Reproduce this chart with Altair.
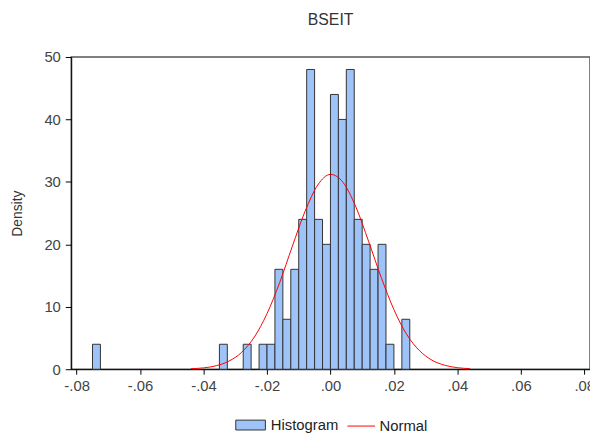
import altair as alt
import pandas as pd

# histogram bins (left edge) and density heights
bin_left = [-0.075, -0.035, -0.0275, -0.0225, -0.02, -0.0175, -0.015, -0.0125,
            -0.01, -0.0075, -0.005, -0.0025, 0.0, 0.0025, 0.005, 0.0075,
            0.01, 0.0125, 0.015, 0.0175, 0.0225]
density = [4, 4, 4, 4, 4, 16, 8, 16, 24, 48, 24, 20, 44, 40, 48, 24,
           20, 16, 20, 4, 8]
bin_width = 0.0025

# fitted normal curve
curve_x = [-0.044, -0.040, -0.036, -0.032, -0.028, -0.024, -0.020, -0.016,
           -0.012, -0.008, -0.004, 0.000, 0.004, 0.008, 0.012, 0.016,
           0.020, 0.024, 0.028, 0.032, 0.036, 0.040, 0.044]
curve_y = [0.08, 0.22, 0.56, 1.3, 2.7, 5.15, 8.9, 13.9,
           19.7, 25.3, 29.5, 31.2, 29.9, 26.0, 20.5, 14.7,
           9.55, 5.6, 3.0, 1.45, 0.64, 0.25, 0.09]

x_ticks = [-0.08, -0.06, -0.04, -0.02, 0.0, 0.02, 0.04, 0.06, 0.08]
y_ticks = [0, 10, 20, 30, 40, 50]

font = "Liberation Sans"

hist_df = pd.DataFrame({"left": bin_left, "density": density})
hist_df["right"] = hist_df["left"] + bin_width
hist_df["series"] = "Histogram"

curve_df = pd.DataFrame({"x": curve_x, "y": curve_y, "series": "Normal"})

x_scale = alt.Scale(domain=[-0.0817, 0.0818], nice=False, zero=False)
y_scale = alt.Scale(domain=[0, 50], nice=False)

label_expr = ("(datum.value < -1e-9 ? '-' : '') + "
              "replace(format(abs(datum.value), '.2f'), '0.', '.')")

bars = (
    alt.Chart(hist_df)
    .mark_rect(stroke="#333333", strokeWidth=1, opacity=1)
    .encode(
        x=alt.X(
            "left:Q",
            scale=x_scale,
            axis=alt.Axis(
                values=x_ticks,
                labelExpr=label_expr,
                title=None,
                grid=False,
                tickSize=5,
                labelPadding=5,
            ),
        ),
        x2="right:Q",
        y=alt.Y(
            "density:Q",
            scale=y_scale,
            axis=alt.Axis(values=y_ticks, title="Density", grid=False,
                          tickSize=6, labelPadding=5, titlePadding=20),
        ),
        y2=alt.datum(0),
        fill=alt.Fill(
            "series:N",
            scale=alt.Scale(domain=["Histogram"], range=["#9DC3F8"]),
            legend=alt.Legend(
                title=None,
                orient="none",
                legendX=166,
                legendY=357,
                symbolType="M-1,-0.333H1V0.333H-1Z",
                symbolSize=900,
                symbolStrokeColor="#333333",
                symbolStrokeWidth=1,
                labelOffset=5,
            ),
        ),
    )
)

line = (
    alt.Chart(curve_df)
    .mark_line(color="red", strokeWidth=1, interpolate="monotone")
    .encode(
        x=alt.X("x:Q", scale=x_scale),
        y=alt.Y("y:Q", scale=y_scale),
        stroke=alt.Stroke(
            "series:N",
            scale=alt.Scale(domain=["Normal"], range=["#FF0000"]),
            legend=alt.Legend(
                title=None,
                orient="none",
                legendX=279,
                legendY=359,
                symbolType="stroke",
                symbolSize=784,
                symbolStrokeWidth=1,
            ),
        ),
    )
)

chart = (
    alt.layer(bars, line)
    .properties(
        width=525,
        height=316,
        title=alt.Title("BSEIT", fontSize=16, font=font, color="#333333",
                        fontWeight="normal", offset=22),
        autosize=alt.AutoSizeParams(type="none"),
        padding={"left": 64, "top": 47, "right": 0, "bottom": 66},
    )
    .configure_view(stroke="#555555", strokeWidth=1.5)
    .configure_axis(
        domainColor="#000000",
        tickColor="#000000",
        labelFont=font,
        labelFontSize=15,
        labelColor="#444444",
        titleFont=font,
        titleFontSize=14,
        titleFontWeight="normal",
        titleColor="#333333",
    )
    .configure_legend(labelFont=font, labelFontSize=15, labelColor="#222222")
)

chart.save("out.html", embed_options={"renderer": "svg", "actions": False})
